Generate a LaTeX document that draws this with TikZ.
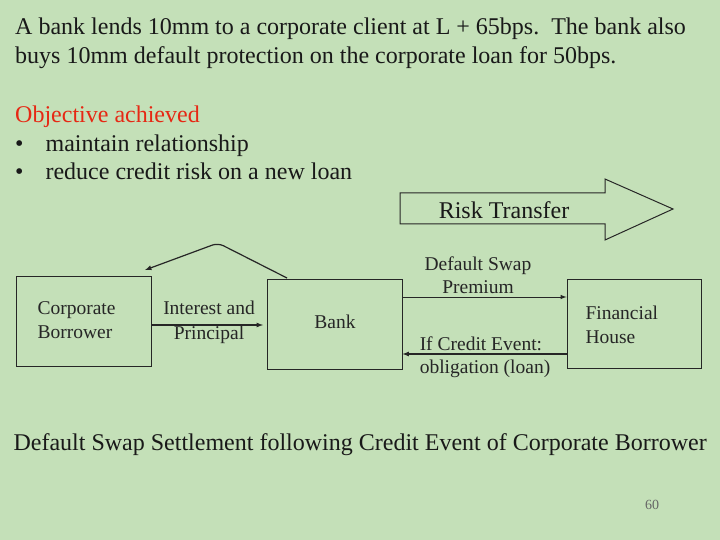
\documentclass[tikz,border=0pt]{standalone}
\usepackage{fontspec}
\setmainfont{Liberation Serif}
\begin{document}
\begin{tikzpicture}[x=1pt,y=-1pt,
  box/.style={draw=black!85,line width=1pt,fill=none},
  lbl/.style={font=\fontsize{19.5}{23.5}\selectfont,align=center,text=black!85},
  arr/.style={draw=black!85,line width=1.2pt,-latex}]
\definecolor{bg}{RGB}{196,224,184}
\definecolor{red1}{RGB}{230,40,20}
\fill[bg] (0,0) rectangle (720,540);
\useasboundingbox (0,0) rectangle (720,540);
\node[anchor=north west,align=left,font=\fontsize{24}{29}\selectfont,inner sep=0,text=black!90] (t) at (15,18)
 {A bank lends 10mm to a corporate client at L + 65bps.\ \ The bank also\\buys 10mm default protection on the corporate loan for 50bps.};
\node[anchor=north west,align=left,font=\fontsize{24}{28.5}\selectfont,inner sep=0,text=black!90] (o) at (15,106)
 {\textcolor{red1}{Objective achieved}\\\textbullet\hspace{22pt}maintain relationship\\\textbullet\hspace{22pt}reduce credit risk on a new loan};
\draw[black!85,line width=1pt,fill=none] (400,193) -- (605,193) -- (605,179) -- (673,209) -- (605,240) -- (605,224) -- (400,224) -- cycle;
\node[font=\fontsize{24}{28}\selectfont,text=black!90] (rt) at (504,210) {Risk Transfer};
\node[box,minimum width=135pt,minimum height=90pt] (cb) at (84,321) {};
\node[lbl,align=left,anchor=west] at (34,320) {Corporate\\Borrower};
\node[box,minimum width=135pt,minimum height=90pt] (bk) at (334.5,324) {};
\node[lbl] at (335,322) {Bank};
\node[box,minimum width=134pt,minimum height=89pt] (fh) at (634,323.5) {};
\node[lbl,align=left,anchor=west] at (582,325) {Financial\\House};
\draw[arr] (cb.east |- 0,325) -- (263,325);
\node[lbl,font=\fontsize{19.5}{25}\selectfont] at (209,322) {Interest and\\Principal};
\draw[arr,line width=1pt] (bk.east |- 0,297) -- (fh.west |- 0,297);
\node[lbl] at (478,275) {Default Swap\\Premium};
\draw[arr] (fh.west |- 0,354) -- (bk.east |- 0,354);
\node[lbl,align=left] at (485,357) {If Credit Event:\\obligation (loan)};
\coordinate (c1) at (287,278);
\coordinate (c2) at (218,243);
\draw[arr,rounded corners=6pt] (c1) -- (c2) -- (145,270);
\node[font=\fontsize{24}{28}\selectfont,anchor=west,text=black!90] (ds) at (10,445) {Default Swap Settlement following Credit Event of Corporate Borrower};
\node[font=\fontsize{14}{16}\selectfont,text=black!60] (pg) at (652,505) {60};
\end{tikzpicture}
\end{document}
